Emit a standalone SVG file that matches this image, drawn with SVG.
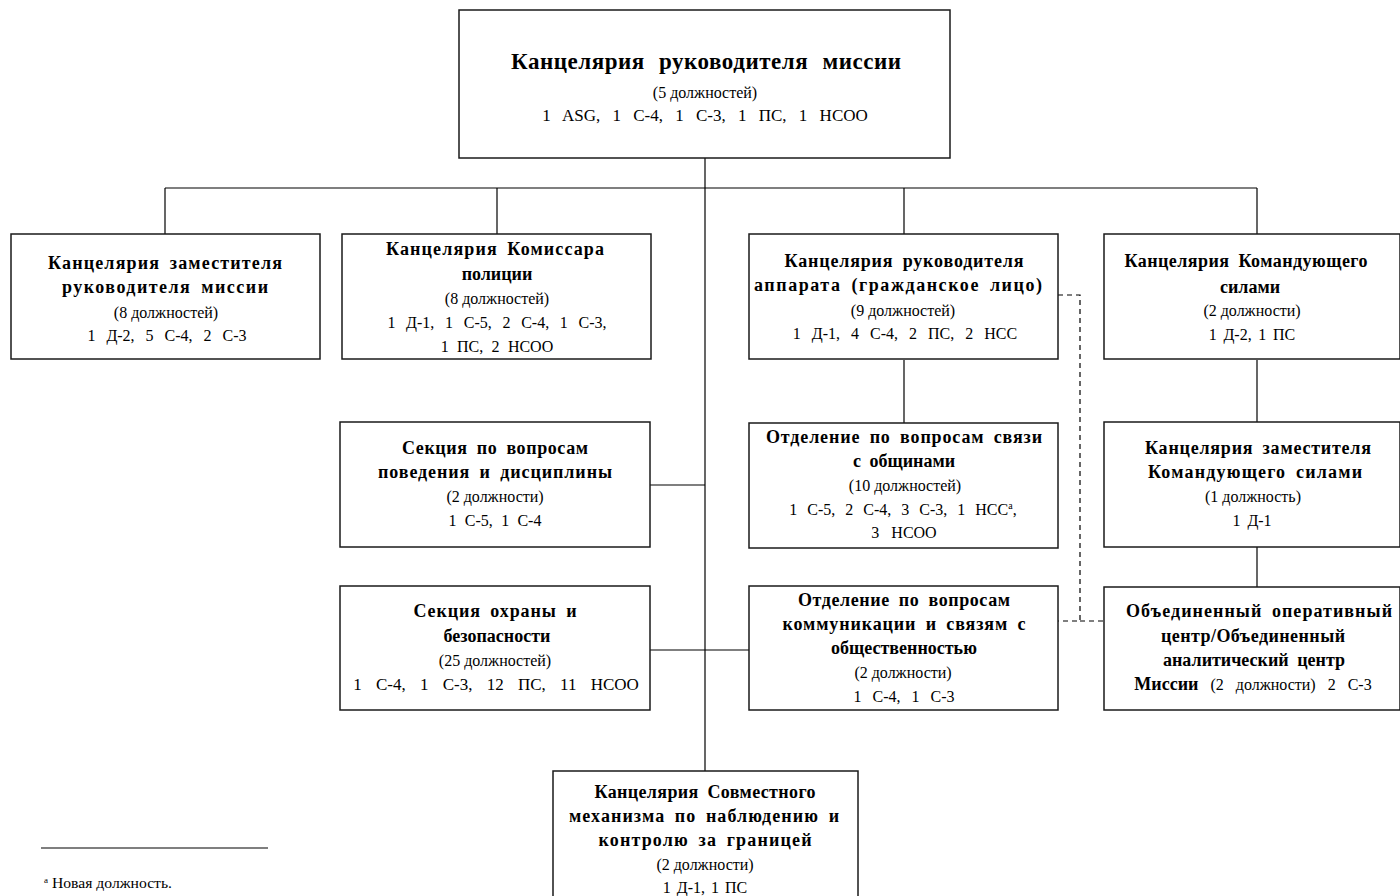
<svg xmlns="http://www.w3.org/2000/svg" width="1400" height="896" viewBox="0 0 1400 896">
<style>
.box{fill:#fff;stroke:#1a1a1a;stroke-width:1.5}
.ln{stroke:#000;stroke-width:1.2;fill:none}
.dash{stroke:#000;stroke-width:1.2;fill:none;stroke-dasharray:5,4}
text{font-family:"Liberation Serif","Times New Roman",serif;text-anchor:middle;fill:#000}
.b{font-weight:bold;font-size:18px;word-spacing:4px}
.n{font-size:16px}
.t{font-weight:bold;font-size:23px;word-spacing:8px}
</style>
<rect width="1400" height="896" fill="#fff"/>
<g id="connectors">
<line class="ln" x1="705" y1="158" x2="705" y2="771"/>
<line class="ln" x1="165" y1="188" x2="1257" y2="188"/>
<line class="ln" x1="165" y1="188" x2="165" y2="234"/>
<line class="ln" x1="497" y1="188" x2="497" y2="234"/>
<line class="ln" x1="904" y1="188" x2="904" y2="234"/>
<line class="ln" x1="1257" y1="188" x2="1257" y2="234"/>
<line class="ln" x1="904" y1="360" x2="904" y2="423"/>
<line class="ln" x1="1257" y1="360" x2="1257" y2="422"/>
<line class="ln" x1="1257" y1="547" x2="1257" y2="587"/>
<line class="ln" x1="650" y1="485" x2="705" y2="485"/>
<line class="ln" x1="650" y1="650" x2="749" y2="650"/>
<polyline class="dash" points="1058,295 1080,295 1080,621 1058,621"/>
<line class="dash" x1="1080" y1="621" x2="1104" y2="621"/>
</g>
<g id="n-head">
<rect class="box" x="459" y="10" width="491" height="148"/>
<text class="t" x="706" y="69" textLength="390" lengthAdjust="spacing">Канцелярия руководителя миссии</text>
<text class="n" x="705" y="98">(5 должностей)</text>
<text x="705" y="121" font-size="17" word-spacing="8">1 ASG, 1 С-4, 1 С-3, 1 ПС, 1 НСОО</text>
</g>
<g id="n-deputy">
<rect class="box" x="11" y="234" width="309" height="125"/>
<text class="b" x="165" y="269" textLength="234" lengthAdjust="spacing">Канцелярия заместителя</text>
<text class="b" x="165" y="293" textLength="206" lengthAdjust="spacing">руководителя миссии</text>
<text class="n" x="166" y="318">(8 должностей)</text>
<text class="n" x="167" y="341" word-spacing="7">1 Д-2, 5 С-4, 2 С-3</text>
</g>
<g id="n-police">
<rect class="box" x="342" y="234" width="309" height="125"/>
<text class="b" x="495" y="255" textLength="218" lengthAdjust="spacing">Канцелярия Комиссара</text>
<text class="b" x="497" y="280">полиции</text>
<text class="n" x="497" y="304">(8 должностей)</text>
<text class="n" x="497" y="328" word-spacing="6.7">1 Д-1, 1 С-5, 2 С-4, 1 С-3,</text>
<text class="n" x="497" y="352" word-spacing="4.3">1 ПС, 2 НСОО</text>
</g>
<g id="n-chief">
<rect class="box" x="749" y="234" width="309" height="125"/>
<text class="b" x="904" y="267" textLength="239" lengthAdjust="spacing">Канцелярия руководителя</text>
<text class="b" x="898" y="291" textLength="288" lengthAdjust="spacing">аппарата (гражданское лицо)</text>
<text class="n" x="903" y="316">(9 должностей)</text>
<text class="n" x="905" y="339" word-spacing="7">1 Д-1, 4 С-4, 2 ПС, 2 НСС</text>
</g>
<g id="n-force">
<rect class="box" x="1104" y="234" width="296" height="125"/>
<text class="b" x="1246" y="267" textLength="243" lengthAdjust="spacing">Канцелярия Командующего</text>
<text class="b" x="1250" y="293">силами</text>
<text class="n" x="1252" y="316">(2 должности)</text>
<text class="n" x="1252" y="340" word-spacing="2.7">1 Д-2, 1 ПС</text>
</g>
<g id="n-conduct">
<rect class="box" x="340" y="422" width="310" height="125"/>
<text class="b" x="495" y="454" textLength="186" lengthAdjust="spacing">Секция по вопросам</text>
<text class="b" x="495" y="478" textLength="234" lengthAdjust="spacing">поведения и дисциплины</text>
<text class="n" x="495" y="502">(2 должности)</text>
<text class="n" x="495" y="526" word-spacing="4.3">1 С-5, 1 С-4</text>
</g>
<g id="n-community">
<rect class="box" x="749" y="423" width="309" height="125"/>
<text class="b" x="904" y="443" textLength="276" lengthAdjust="spacing">Отделение по вопросам связи</text>
<text class="b" x="904" y="467">с общинами</text>
<text class="n" x="905" y="491">(10 должностей)</text>
<text class="n" x="903" y="515" word-spacing="6">1 С-5, 2 С-4, 3 С-3, 1 НСС<tspan font-size="10" dy="-6">a</tspan><tspan dy="6">,</tspan></text>
<text class="n" x="904" y="538" word-spacing="8">3 НСОО</text>
</g>
<g id="n-deputy-force">
<rect class="box" x="1104" y="422" width="296" height="125"/>
<text class="b" x="1258" y="454" textLength="226" lengthAdjust="spacing">Канцелярия заместителя</text>
<text class="b" x="1255" y="478" textLength="214" lengthAdjust="spacing">Командующего силами</text>
<text class="n" x="1253" y="502">(1 должность)</text>
<text class="n" x="1252" y="526" word-spacing="3">1 Д-1</text>
</g>
<g id="n-security">
<rect class="box" x="340" y="586" width="310" height="124"/>
<text class="b" x="495" y="617" textLength="163" lengthAdjust="spacing">Секция охраны и</text>
<text class="b" x="497" y="642">безопасности</text>
<text class="n" x="495" y="666">(25 должностей)</text>
<text x="496" y="690" font-size="17" word-spacing="10">1 С-4, 1 С-3, 12 ПС, 11 НСОО</text>
</g>
<g id="n-comms">
<rect class="box" x="749" y="586" width="309" height="124"/>
<text class="b" x="904" y="606" textLength="212" lengthAdjust="spacing">Отделение по вопросам</text>
<text class="b" x="904" y="630" textLength="243" lengthAdjust="spacing">коммуникации и связям с</text>
<text class="b" x="904" y="654">общественностью</text>
<text class="n" x="903" y="678">(2 должности)</text>
<text class="n" x="904" y="702" word-spacing="7">1 С-4, 1 С-3</text>
</g>
<g id="n-joc">
<rect class="box" x="1104" y="587" width="296" height="123"/>
<text class="b" x="1259" y="617" textLength="266" lengthAdjust="spacing">Объединенный оперативный</text>
<text class="b" x="1253" y="642" textLength="184" lengthAdjust="spacing">центр/Объединенный</text>
<text class="b" x="1254" y="666">аналитический центр</text>
<text x="1253" y="690" class="n" word-spacing="8"><tspan font-weight="bold" font-size="18">Миссии</tspan> (2 должности) 2 С-3</text>
</g>
<g id="n-border">
<rect class="box" x="553" y="771" width="305" height="130"/>
<text class="b" x="705" y="798" textLength="221" lengthAdjust="spacing">Канцелярия Совместного</text>
<text class="b" x="704" y="822" textLength="270" lengthAdjust="spacing">механизма по наблюдению и</text>
<text class="b" x="705" y="846" textLength="213" lengthAdjust="spacing">контролю за границей</text>
<text class="n" x="705" y="870">(2 должности)</text>
<text class="n" x="705" y="893" word-spacing="2">1 Д-1, 1 ПС</text>
</g>
<g id="footnote">
<line class="ln" x1="41" y1="848" x2="268" y2="848"/>
<text x="44" y="883" font-size="9" style="text-anchor:start">a</text>
<text x="52" y="888" font-size="14" style="text-anchor:start" textLength="120" lengthAdjust="spacingAndGlyphs">Новая должность.</text>
</g>
</svg>
